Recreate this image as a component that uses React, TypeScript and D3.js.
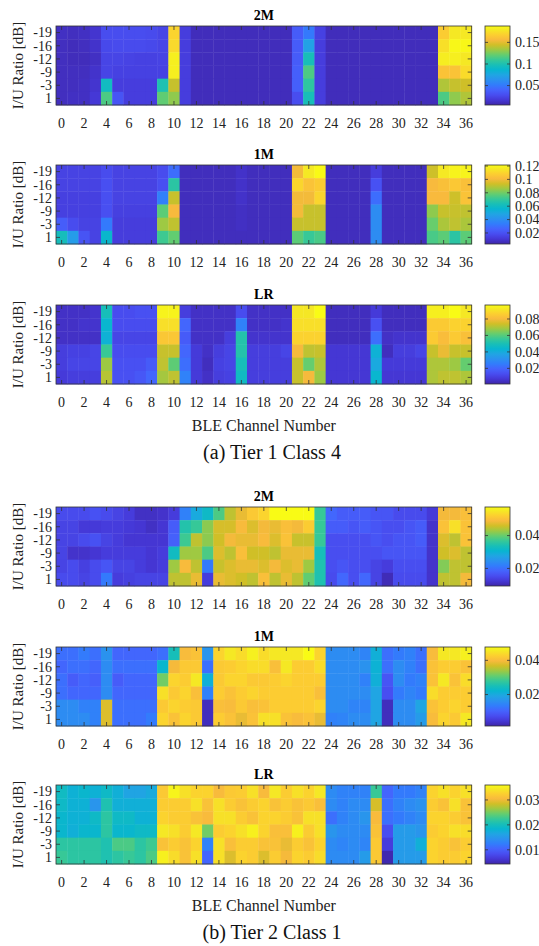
import React from 'react';
import * as d3 from 'd3';

// values are in units of 1e-3
const channels = d3.range(0, 37);
const channelTicks = d3.range(0, 37, 2);
const ratios = ['-19', '-16', '-12', '-9', '-3', '1'];

const t1_2M = [
  [12,11,12,15,28,28,28,28,27,24,170,20,10,10,10,10,10,10,10,10,10,36,50,22,10,10,10,10,10,10,10,10,10,10,166,179,179],
  [11,10,11,14,26,27,27,27,26,24,172,20,10,10,10,10,10,10,10,10,10,36,73,20,10,10,10,10,10,10,10,10,10,10,175,186,186],
  [11,10,10,12,24,24,23,22,22,23,182,20,10,10,10,10,10,10,10,10,10,36,97,20,10,10,10,10,10,10,10,10,10,10,181,182,179],
  [11,11,11,14,24,22,22,22,22,22,182,20,10,10,10,10,10,10,10,10,10,38,115,20,10,10,10,10,10,10,10,10,10,10,161,161,173],
  [11,11,12,15,93,20,20,20,20,100,142,20,10,10,10,10,10,10,10,10,10,38,106,20,10,10,10,10,10,10,10,10,10,10,137,142,144],
  [11,12,12,17,115,32,20,20,20,120,130,20,10,10,10,10,10,10,10,10,10,28,97,20,10,10,10,10,10,10,10,10,10,10,115,130,137],
];

const t1_1M = [
  [15,15,15,15,18,15,15,15,15,18,29,7,7,7,7,7,9,7,7,7,7,100,116,121,7,7,7,7,13,7,7,7,7,93,116,119,119],
  [15,15,15,15,19,15,15,15,15,19,68,7,7,7,7,7,9,7,7,7,7,110,104,107,7,7,7,7,20,7,7,7,7,101,103,106,103],
  [14,14,14,14,19,15,15,15,15,35,92,7,7,7,7,7,9,7,7,7,7,100,100,110,7,7,7,7,29,7,7,7,7,101,101,93,104],
  [14,14,14,14,19,14,14,14,14,77,101,7,7,7,7,7,8,7,7,7,7,100,92,92,7,7,7,7,39,7,7,7,7,84,92,92,91],
  [24,18,15,15,33,13,13,13,13,86,91,7,7,7,7,7,8,7,7,7,7,92,92,92,7,7,7,7,39,7,7,7,7,79,88,91,88],
  [62,45,21,15,57,13,13,13,13,72,78,7,7,7,7,7,7,7,7,7,7,77,71,74,7,7,7,7,39,7,7,7,7,74,77,68,77],
];

const t1_LR = [
  [5,5,5,6,49,13,13,14,14,95,95,9,5,5,5,5,13,5,5,5,5,92,92,97,4,4,4,4,8,4,4,4,4,94,94,97,92],
  [5,5,6,6,44,13,13,13,13,90,90,20,5,5,5,5,27,5,5,5,6,90,90,90,4,4,4,4,14,4,4,4,4,85,85,87,87],
  [5,5,5,5,42,11,11,11,11,84,84,17,5,5,5,9,52,6,6,6,6,87,87,87,4,4,4,4,22,5,6,6,6,85,81,85,82],
  [9,10,10,11,56,13,13,13,13,73,73,20,8,5,9,11,52,9,9,9,11,80,72,73,7,7,7,7,42,4,9,9,11,73,78,73,73],
  [9,11,11,11,68,14,14,14,17,72,61,22,8,4,10,11,49,9,9,9,9,73,62,70,7,7,7,7,39,8,8,8,8,70,70,68,62],
  [8,9,9,9,71,14,14,16,20,69,72,27,8,5,9,10,47,9,9,9,9,73,80,68,7,7,7,7,44,7,7,7,7,70,72,72,70],
];

const t2_2M = [
  [15.1,15.1,15.1,16.0,15.1,14.1,13.1,11.2,11.2,11.7,13.1,22.3,28.5,31.9,38.2,44.9,47.8,51.2,52.6,57.4,57.4,57.4,57.4,36.7,18.9,17.5,17.5,17.5,16.5,16.5,15.1,15.1,15.1,12.7,48.7,48.7,49.7],
  [14.1,14.1,12.7,12.7,13.1,13.1,12.7,12.2,11.2,12.2,17.5,34.8,36.7,42.0,46.3,46.3,49.2,46.8,48.7,47.8,49.7,48.7,51.6,36.7,17.5,17.5,16.5,17.5,16.5,15.5,15.5,16.5,17.5,11.7,50.2,54.0,50.2],
  [14.1,14.1,15.1,16.0,14.1,13.1,12.2,12.2,12.2,12.2,18.0,37.2,44.9,42.0,45.9,48.7,47.8,47.8,49.2,46.8,50.2,45.4,45.4,36.7,15.5,15.5,15.5,15.5,16.5,15.5,16.5,16.5,17.5,11.7,46.8,44.9,50.2],
  [14.1,11.7,11.7,12.2,13.1,13.1,13.1,13.1,12.2,13.1,32.4,43.0,43.0,38.2,46.8,44.9,49.7,45.9,45.9,44.9,47.8,47.8,47.8,33.4,15.5,15.5,15.5,15.5,15.5,16.5,16.5,16.5,16.5,11.7,45.9,46.8,44.9],
  [14.1,15.1,13.6,15.1,16.5,14.1,14.1,13.1,12.2,13.1,43.0,49.2,44.9,21.3,45.4,46.8,47.8,47.8,46.8,48.7,46.8,47.8,43.0,34.3,15.5,16.5,15.5,15.5,14.1,13.1,15.5,15.5,15.5,11.7,41.5,44.9,44.9],
  [15.1,15.1,14.1,15.1,21.3,13.1,13.6,14.1,14.1,14.1,44.9,44.9,47.8,13.1,47.8,46.8,45.9,44.9,49.7,44.9,47.8,44.9,39.6,34.3,15.1,18.9,15.5,18.9,14.1,10.3,15.1,15.1,15.1,11.7,44.9,44.9,48.7],
];

const t2_1M = [
  [11.8,11.8,13.2,11.8,16.4,10.8,10.8,10.8,10.8,11.8,24.7,40.0,40.9,16.8,43.2,45.5,44.1,46.4,44.1,45.5,45.5,45.5,47.8,43.2,15.5,15.5,15.5,14.5,21.0,11.8,13.2,14.1,11.8,40.0,45.5,45.5,46.4],
  [10.8,11.8,11.8,10.8,15.5,11.8,11.8,11.8,11.8,22.4,39.5,41.8,41.8,11.8,41.8,42.3,43.2,44.1,44.1,40.4,45.5,42.3,42.3,44.1,15.5,15.5,15.5,16.4,21.5,11.8,15.5,14.1,11.8,40.9,42.3,42.3,40.9],
  [11.8,9.5,10.8,9.9,15.5,9.5,10.8,10.8,10.8,31.6,43.2,42.3,45.5,21.0,41.8,43.2,43.2,41.8,41.8,42.3,43.2,42.3,42.3,42.3,15.5,15.5,15.5,14.1,21.0,8.5,15.5,13.2,14.1,40.9,45.5,40.9,44.1],
  [11.8,10.8,10.8,10.8,15.5,10.8,10.8,10.8,10.8,44.6,41.8,43.2,40.4,14.1,42.3,40.9,42.3,43.2,42.3,42.3,42.3,42.3,42.3,40.4,15.5,15.5,15.5,15.5,19.2,7.6,13.2,14.5,13.2,44.1,42.3,42.3,42.3],
  [15.5,15.5,14.1,14.1,37.6,11.8,11.8,11.8,11.8,41.8,43.2,42.3,41.8,3.0,40.4,40.0,41.8,40.4,40.9,42.3,42.3,42.3,42.3,43.2,15.5,15.5,14.5,14.5,19.2,3.0,15.5,15.5,19.2,40.9,42.3,43.2,42.3],
  [15.5,15.5,15.5,14.1,37.6,11.8,11.8,11.8,13.2,43.2,40.9,43.2,41.8,3.0,42.3,40.9,38.6,40.9,44.6,44.6,40.9,40.0,40.9,38.6,14.1,14.5,15.5,15.5,19.2,3.0,15.5,15.5,17.8,40.0,43.2,41.8,45.5],
];

const t2_LR = [
  [19.5,17.9,18.6,17.9,19.2,17.6,16.3,16.3,17.0,31.9,35.4,33.8,32.8,32.8,30.6,31.9,32.2,33.8,30.6,34.4,32.2,33.8,32.8,34.4,13.8,12.9,12.9,12.9,22.4,10.6,12.2,12.2,12.9,32.8,33.8,32.8,33.8],
  [19.2,17.9,17.9,14.8,20.8,17.6,17.6,17.6,17.6,32.2,32.2,32.2,33.8,31.2,33.8,32.2,31.2,32.2,32.8,31.2,32.2,31.2,31.9,30.9,13.8,12.9,13.8,13.8,28.7,11.3,12.9,13.8,14.4,32.2,31.2,33.8,31.2],
  [18.6,17.9,17.9,19.2,21.7,19.2,19.2,17.9,17.9,32.8,32.2,32.2,31.2,30.6,33.8,33.8,32.2,31.2,32.8,32.8,32.2,31.2,33.8,33.8,11.3,12.9,13.8,14.8,30.6,11.3,12.2,12.9,13.8,32.8,32.8,32.2,31.2],
  [18.6,17.6,18.6,18.6,21.7,18.6,18.6,19.2,19.2,34.4,33.8,32.2,34.4,24.9,32.2,32.8,33.8,35.1,32.8,30.9,30.9,35.1,32.2,33.8,14.8,13.8,13.8,13.8,31.2,8.4,15.4,15.4,14.8,32.2,32.8,33.8,33.5],
  [21.7,21.7,21.7,21.7,20.8,23.3,23.3,21.7,22.7,31.2,32.2,31.2,32.8,12.9,33.8,30.9,32.2,32.2,31.2,31.2,29.7,32.2,31.2,32.8,13.8,13.2,13.8,13.2,31.9,6.8,15.4,15.4,17.6,32.8,32.2,31.2,32.2],
  [22.4,21.7,21.7,21.7,20.8,21.7,22.4,21.7,23.3,35.1,33.5,31.2,33.8,10.6,33.8,29.0,32.8,32.2,29.0,32.2,30.3,32.8,32.2,33.5,13.8,13.8,13.8,15.4,31.9,4.6,15.4,15.4,15.4,32.8,32.2,32.2,32.8],
];

const titles = ['2M', '1M', 'LR', '2M', '1M', 'LR'];
const colorRanges = [[5, 188], [3.5, 121.5], [1, 97], [9.3, 57.4], [1.6, 47.8], [4.3, 36]];
const colorTicks = [
  [0.05, 0.1, 0.15],
  [0.02, 0.04, 0.06, 0.08, 0.1, 0.12],
  [0.02, 0.04, 0.06, 0.08],
  [0.02, 0.04],
  [0.02, 0.04],
  [0.01, 0.02, 0.03],
];
const captions = ['(a) Tier 1 Class 4', '(b) Tier 2 Class 1'];

// parula anchor colours
const parulaStops = ['#3e26a8','#4537d5','#484df0','#4563fd','#327cfc','#2b91ef','#20a5e3','#08b5d0','#19bfb6','#37c897','#64cd6f','#9dc943','#d1bf27','#f8ba3d','#fccf30','#f5e924','#f9fb15'];
const parulaPos = parulaStops.map((_, i) => (i < 16 ? (i * 4) / 63 : 1));
const parula = d3.scaleLinear<string>().domain(parulaPos).range(parulaStops).interpolate(d3.interpolateRgb).clamp(true);

const W = 539;
const H = 946;
const left = 56;
const right = 471.7;
const plotH = 79;
const panelTop = [26, 165, 305, 507, 647, 785];
const cbX = 485;
const cbW = 25;
const font = '"Liberation Serif", "Times New Roman", serif';
const axisColor = '#333';

const panels = [t1_2M, t1_1M, t1_LR, t2_2M, t2_1M, t2_LR];

function Heatmap({ idx }: { idx: number }) {
  const top = panelTop[idx];
  const data = panels[idx];
  const [lo, hi] = colorRanges[idx];
  const x = d3.scaleBand<number>().domain(channels).range([left, right]);
  const y = d3.scaleBand<string>().domain(ratios).range([top, top + plotH]);
  const norm = d3.scaleLinear().domain([lo, hi]).range([0, 1]);
  const cb = d3.scaleLinear().domain([lo / 1000, hi / 1000]).range([top + plotH, top]);
  const showXLabel = idx === 2 || idx === 5;
  const tl = 4;

  return (
    <g>
      <text x={(left + right) / 2} y={top - 6} textAnchor="middle" fontFamily={font} fontWeight="bold" fontSize={14}>
        {titles[idx]}
      </text>
      {data.map((row, r) =>
        row.map((v, c) => (
          <rect
            key={r + '-' + c}
            x={x(c)}
            y={y(ratios[r])}
            width={x.bandwidth() + 0.4}
            height={y.bandwidth() + 0.4}
            fill={parula(norm(v))}
          />
        ))
      )}
      <rect x={left} y={top} width={right - left} height={plotH} fill="none" stroke={axisColor} strokeWidth={0.8} />
      {channelTicks.map((c) => {
        const cx = x(c)! + x.bandwidth() / 2;
        return (
          <g key={'xt' + c}>
            <line x1={cx} x2={cx} y1={top + plotH} y2={top + plotH - tl} stroke={axisColor} strokeWidth={0.8} />
            <line x1={cx} x2={cx} y1={top} y2={top + tl} stroke={axisColor} strokeWidth={0.8} />
            <text x={cx} y={top + plotH + 23} textAnchor="middle" fontFamily={font} fontSize={14} fill="#222">
              {c}
            </text>
          </g>
        );
      })}
      {ratios.map((d) => {
        const cy = y(d)! + y.bandwidth() / 2;
        return (
          <g key={'yt' + d}>
            <line x1={left} x2={left + tl} y1={cy} y2={cy} stroke={axisColor} strokeWidth={0.8} />
            <line x1={right} x2={right - tl} y1={cy} y2={cy} stroke={axisColor} strokeWidth={0.8} />
            <text x={left - 4} y={cy} dy="0.35em" textAnchor="end" fontFamily={font} fontSize={14} fill="#222">
              {d}
            </text>
          </g>
        );
      })}
      <text
        transform={`translate(18,${top + plotH / 2}) rotate(-90)`}
        textAnchor="middle"
        dy="0.35em"
        fontFamily={font}
        fontSize={15}
        fill="#222"
      >
        I/U Ratio [dB]
      </text>
      <rect x={cbX} y={top} width={cbW} height={plotH} fill="url(#parulaGrad)" stroke={axisColor} strokeWidth={0.8} />
      {colorTicks[idx].map((t) => (
        <g key={'ct' + t}>
          <line x1={cbX + cbW} x2={cbX + cbW - 3} y1={cb(t)} y2={cb(t)} stroke={axisColor} strokeWidth={0.8} />
          <line x1={cbX} x2={cbX + 3} y1={cb(t)} y2={cb(t)} stroke={axisColor} strokeWidth={0.8} />
          <text x={cbX + cbW + 5} y={cb(t)} dy="0.35em" fontFamily={font} fontSize={14} fill="#222">
            {String(t)}
          </text>
        </g>
      ))}
      {showXLabel && (
        <text x={(left + right) / 2} y={top + plotH + 47} textAnchor="middle" fontFamily={font} fontSize={16} fill="#222">
          BLE Channel Number
        </text>
      )}
    </g>
  );
}

export default function App() {
  return (
    <svg width={W} height={H} style={{ position: 'absolute', left: 0, top: 0, background: '#fff' }}>
      <defs>
        <linearGradient id="parulaGrad" x1="0" y1="1" x2="0" y2="0">
          {parulaStops.map((c, i) => (
            <stop key={i} offset={parulaPos[i]} stopColor={c} />
          ))}
        </linearGradient>
      </defs>
      <rect width={W} height={H} fill="#fff" />
      {panels.map((_, i) => (
        <Heatmap key={i} idx={i} />
      ))}
      <text x={272} y={459} textAnchor="middle" fontFamily={font} fontSize={20} fill="#111">
        {captions[0]}
      </text>
      <text x={272} y={939} textAnchor="middle" fontFamily={font} fontSize={20} fill="#111">
        {captions[1]}
      </text>
    </svg>
  );
}
